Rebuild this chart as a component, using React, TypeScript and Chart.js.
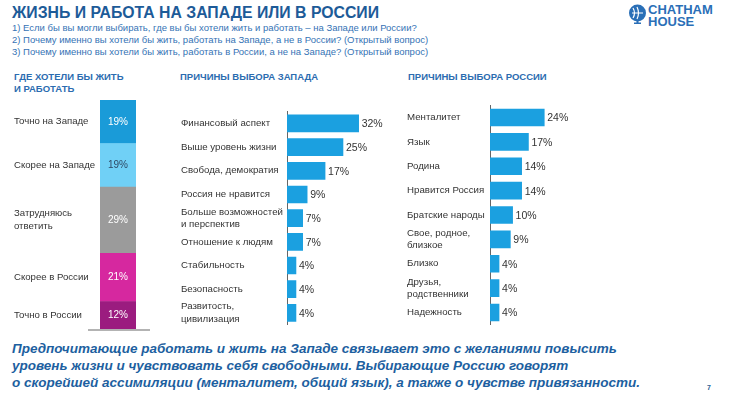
import React, { useEffect, useRef } from "react";
import { Chart, registerables } from "chart.js";

Chart.register(...registerables);

const FONT = '"Liberation Sans", Arial, sans-serif';

// ---- data ----
const prefCategories: string[][] = [
  ["Точно на Западе"],
  ["Скорее на Западе"],
  ["Затрудняюсь", "ответить"],
  ["Скорее в России"],
  ["Точно в России"],
];
const prefValues = [19, 19, 29, 21, 12];

const westCategories: (string | string[])[] = [
  "Финансовый аспект",
  "Выше уровень жизни",
  "Свобода, демократия",
  "Россия не нравится",
  ["Больше возможностей", "и перспектив"],
  "Отношение к людям",
  "Стабильность",
  "Безопасность",
  ["Развитость,", "цивилизация"],
];
const westValues = [32, 25, 17, 9, 7, 7, 4, 4, 4];

const russiaCategories: (string | string[])[] = [
  "Менталитет",
  "Язык",
  "Родина",
  "Нравится Россия",
  "Братские народы",
  ["Свое, родное,", "близкое"],
  "Близко",
  ["Друзья,", "родственники"],
  "Надежность",
];
const russiaValues = [24, 17, 14, 14, 10, 9, 4, 4, 4];

// ---- styles ----
const prefColors = ["#1a9bd8", "#70d0f6", "#9b9b9b", "#d6289f", "#9b1c7f"];
const prefTextColors = ["#ffffff", "#2e4a66", "#ffffff", "#ffffff", "#ffffff"];
const BAR_BLUE = "#1ba0e0";

function PrefChart() {
  const ref = useRef<HTMLCanvasElement>(null);
  useEffect(() => {
    const order = [4, 3, 2, 1, 0];
    const labelPlugin = {
      id: "prefLabels",
      afterDatasetsDraw(chart: any) {
        const ctx = chart.ctx;
        ctx.save();
        chart.data.datasets.forEach((ds: any, di: number) => {
          const idx = order[di];
          const el = chart.getDatasetMeta(di).data[0] as any;
          const cy = (el.y + el.base) / 2;
          ctx.font = `10px ${FONT}`;
          ctx.textAlign = "center";
          ctx.textBaseline = "middle";
          ctx.fillStyle = prefTextColors[idx];
          ctx.fillText(prefValues[idx] + "%", el.x, cy);
          const lines = prefCategories[idx];
          const lh = 13;
          ctx.font = `9.6px ${FONT}`;
          ctx.textAlign = "left";
          ctx.fillStyle = "#333333";
          lines.forEach((t, li) => {
            ctx.fillText(t, 6, cy + (li - (lines.length - 1) / 2) * lh);
          });
        });
        const b = chart.chartArea.bottom + 1;
        ctx.strokeStyle = "#b3b3b3";
        ctx.lineWidth = 2;
        ctx.beginPath();
        ctx.moveTo(80, b);
        ctx.lineTo(142, b);
        ctx.stroke();
        ctx.restore();
      },
    };
    const chart = new Chart(ref.current!, {
      type: "bar",
      data: {
        labels: [""],
        datasets: order.map((i) => ({
          label: prefCategories[i].join(" "),
          data: [prefValues[i]],
          backgroundColor: prefColors[i],
          borderWidth: 0,
          barPercentage: 1,
          categoryPercentage: 1,
        })),
      },
      options: {
        responsive: false,
        animation: false,
        layout: { padding: { left: 92, right: 14, top: 5, bottom: 6 } },
        scales: {
          x: { stacked: true, display: false },
          y: { stacked: true, display: false, min: 0, max: 100 },
        },
        plugins: { legend: { display: false }, tooltip: { enabled: false } },
      },
      plugins: [labelPlugin],
    });
    return () => chart.destroy();
  }, []);
  return (
    <canvas
      ref={ref}
      width={142}
      height={240}
      style={{ position: "absolute", left: 8, top: 95, width: 142, height: 240 }}
    />
  );
}

function ReasonChart(props: {
  labels: (string | string[])[];
  values: number[];
  left: number;
  width: number;
  axisWidth: number;
}) {
  const ref = useRef<HTMLCanvasElement>(null);
  useEffect(() => {
    const valuePlugin = {
      id: "values",
      afterDatasetsDraw(chart: any) {
        const ctx = chart.ctx;
        ctx.save();
        ctx.font = `10.5px ${FONT}`;
        ctx.fillStyle = "#333333";
        ctx.textAlign = "left";
        ctx.textBaseline = "middle";
        chart.getDatasetMeta(0).data.forEach((el: any, i: number) => {
          ctx.fillText(props.values[i] + "%", el.x + 3, el.y + 1);
        });
        ctx.restore();
      },
    };
    const chart = new Chart(ref.current!, {
      type: "bar",
      data: {
        labels: props.labels as any,
        datasets: [
          {
            data: props.values,
            backgroundColor: BAR_BLUE,
            borderWidth: 0,
            barThickness: 17,
          },
        ],
      },
      options: {
        indexAxis: "y",
        responsive: false,
        animation: false,
        layout: { padding: { left: 3, right: 0, top: 5, bottom: 4 } },
        scales: {
          x: { display: false, min: 0, max: 46 },
          y: {
            grid: { display: false },
            border: { display: true, color: "#666666", width: 1 },
            ticks: {
              autoSkip: false,
              crossAlign: "far",
              color: "#333333",
              padding: 4,
              font: { family: FONT, size: 9.7, lineHeight: 1.3 },
            },
            afterFit: (scale: any) => {
              scale.width = props.axisWidth;
            },
          },
        },
        plugins: { legend: { display: false }, tooltip: { enabled: false } },
      },
      plugins: [valuePlugin],
    });
    return () => chart.destroy();
  }, []);
  return (
    <canvas
      ref={ref}
      width={props.width}
      height={240}
      style={{ position: "absolute", left: props.left, top: 95, width: props.width, height: 240 }}
    />
  );
}

export default function App() {
  const hdr: React.CSSProperties = {
    position: "absolute",
    fontFamily: FONT,
    fontWeight: "bold",
    fontSize: 9.5,
    color: "#2b6cb0",
    lineHeight: "12px",
    whiteSpace: "nowrap",
  };
  return (
    <div
      style={{
        position: "fixed",
        left: 0,
        top: 0,
        width: 732,
        height: 393,
        background: "#ffffff",
        overflow: "hidden",
        fontFamily: FONT,
      }}
    >
      <div
        style={{
          position: "absolute",
          left: 12,
          top: 2,
          fontSize: 15.8,
          fontWeight: "bold",
          color: "#1d5b98",
          whiteSpace: "nowrap",
          lineHeight: "22px",
        }}
      >
        ЖИЗНЬ И РАБОТА НА ЗАПАДЕ ИЛИ В РОССИИ
      </div>
      <div
        style={{
          position: "absolute",
          left: 12,
          top: 22,
          fontSize: 9.5,
          color: "#3573b5",
          lineHeight: "12px",
          whiteSpace: "nowrap",
        }}
      >
        <div>1) Если бы вы могли выбирать, где вы бы хотели жить и работать – на Западе или России?</div>
        <div>2) Почему именно вы хотели бы жить, работать на Западе, а не в России? (Открытый вопрос)</div>
        <div>3) Почему именно вы хотели бы жить, работать в России, а не на Западе? (Открытый вопрос)</div>
      </div>

      <svg style={{ position: "absolute", left: 628, top: 4 }} width={19} height={20} viewBox="0 0 19 20">
        <circle cx={9.5} cy={9} r={8.5} fill="#2a6fb7" />
        <path d="M5 4 Q8 9 5 14 M9 3 Q12 9 9 15 M4 9 H15" stroke="#ffffff" strokeWidth={1.2} fill="none" />
        <rect x={8.5} y={17} width={2} height={2} fill="#2a6fb7" />
        <rect x={6} y={18.5} width={7} height={1.5} fill="#2a6fb7" />
      </svg>
      <div
        style={{
          position: "absolute",
          left: 648,
          top: 4,
          fontSize: 13,
          fontWeight: "bold",
          color: "#2a6fb7",
          lineHeight: "12px",
        }}
      >
        <div>CHATHAM</div>
        <div>HOUSE</div>
      </div>

      <div style={{ ...hdr, left: 14, top: 71 }}>
        <div>ГДЕ ХОТЕЛИ БЫ ЖИТЬ</div>
        <div>И РАБОТАТЬ</div>
      </div>
      <div style={{ ...hdr, left: 180, top: 71 }}>ПРИЧИНЫ ВЫБОРА ЗАПАДА</div>
      <div style={{ ...hdr, left: 408, top: 71 }}>ПРИЧИНЫ ВЫБОРА РОССИИ</div>

      <PrefChart />
      <ReasonChart labels={westCategories} values={westValues} left={178} width={212} axisWidth={106} />
      <ReasonChart labels={russiaCategories} values={russiaValues} left={404} width={190} axisWidth={83} />

      <div
        style={{
          position: "absolute",
          left: 12,
          top: 340,
          fontSize: 13.5,
          fontWeight: "bold",
          fontStyle: "italic",
          color: "#1d5fa0",
          lineHeight: "17px",
          whiteSpace: "nowrap",
        }}
      >
        <div>Предпочитающие работать и жить на Западе связывает это с желаниями повысить</div>
        <div>уровень жизни и чувствовать себя свободными. Выбирающие Россию говорят</div>
        <div>о скорейшей ассимиляции (менталитет, общий язык), а также о чувстве привязанности.</div>
      </div>
      <div
        style={{
          position: "absolute",
          left: 707,
          top: 384,
          fontSize: 7,
          color: "#2b5f95",
          fontWeight: "bold",
        }}
      >
        7
      </div>
    </div>
  );
}
